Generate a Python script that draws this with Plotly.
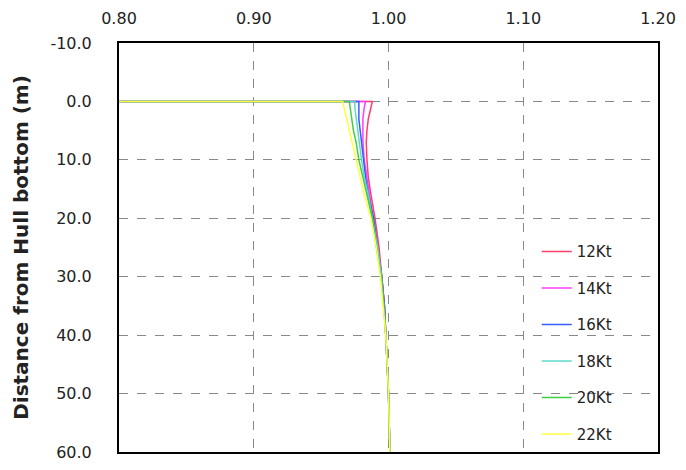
import plotly.graph_objects as go

depth = [0, 0, 1, 2, 3, 5, 7, 10, 13, 16, 20, 25, 30, 35, 40, 50, 60]
names = ["12Kt", "14Kt", "16Kt", "18Kt", "20Kt", "22Kt"]
colors = ["#ff3f6a", "#ff3cff", "#3a5cff", "#5fd8cc", "#3fd03f", "#ffff40"]
v12 = [0.80, 0.988, 0.987, 0.986, 0.985, 0.984, 0.9835, 0.984, 0.985, 0.987, 0.990, 0.993, 0.995, 0.997, 0.998, 1.000, 1.001]
v14 = [0.80, 0.983, 0.982, 0.9815, 0.981, 0.981, 0.981, 0.982, 0.984, 0.986, 0.989, 0.992, 0.995, 0.997, 0.998, 1.000, 1.001]
v16 = [0.80, 0.978, 0.978, 0.978, 0.978, 0.979, 0.980, 0.981, 0.983, 0.985, 0.989, 0.992, 0.995, 0.997, 0.998, 1.000, 1.001]
v18 = [0.80, 0.975, 0.975, 0.9755, 0.976, 0.977, 0.978, 0.980, 0.982, 0.985, 0.988, 0.992, 0.9948, 0.9965, 0.998, 1.000, 1.001]
v20 = [0.80, 0.971, 0.9715, 0.972, 0.973, 0.974, 0.976, 0.978, 0.981, 0.984, 0.988, 0.991, 0.9945, 0.9965, 0.998, 1.000, 1.001]
v22 = [0.80, 0.966, 0.967, 0.968, 0.969, 0.971, 0.973, 0.976, 0.979, 0.982, 0.987, 0.991, 0.994, 0.996, 0.998, 1.000, 1.001]
series = [v12, v14, v16, v18, v20, v22]

x_ticks = [0.80, 0.90, 1.00, 1.10, 1.20]
x_labels = ["0.80", "0.90", "1.00", "1.10", "1.20"]
y_ticks = [-10, 0, 10, 20, 30, 40, 50, 60]
y_labels = ["-10.0", "0.0", "10.0", "20.0", "30.0", "40.0", "50.0", "60.0"]

fig = go.Figure()
for n, c, v in zip(names, colors, series):
    fig.add_trace(go.Scatter(x=v, y=depth, mode="lines", name=n, legendgroup=n,
                             line=dict(color=c, width=1.5)))

font = "DejaVu Sans"
fig.update_layout(
    width=686, height=470,
    margin=dict(l=119, r=28, t=43, b=8),
    paper_bgcolor="white", plot_bgcolor="white",
    font=dict(family=font, size=16, color="#222"),
    legend=dict(x=0.775, y=0.53, xanchor="left", yanchor="top",
                bgcolor="rgba(0,0,0,0)", font=dict(size=15, color="#222"),
                tracegroupgap=14, itemwidth=30),
    xaxis=dict(range=[0.8, 1.2], side="top", tickvals=x_ticks, ticktext=x_labels,
               showgrid=True, gridcolor="#888", griddash="dash", gridwidth=1,
               showline=True, linecolor="black", linewidth=2, mirror=True,
               zeroline=False, ticks="", ticklabelstandoff=11, tickfont=dict(size=16)),
    yaxis=dict(range=[60, -10], tickvals=y_ticks, ticktext=y_labels,
               showgrid=True, gridcolor="#888", griddash="dash", gridwidth=1,
               showline=True, linecolor="black", linewidth=2, mirror=True,
               zeroline=False, ticks="", ticklabelstandoff=22, tickfont=dict(size=16),
               title=dict(text="<b>Distance from Hull bottom (m)</b>", font=dict(size=20), standoff=16)),
)
fig.write_html("out.html")
